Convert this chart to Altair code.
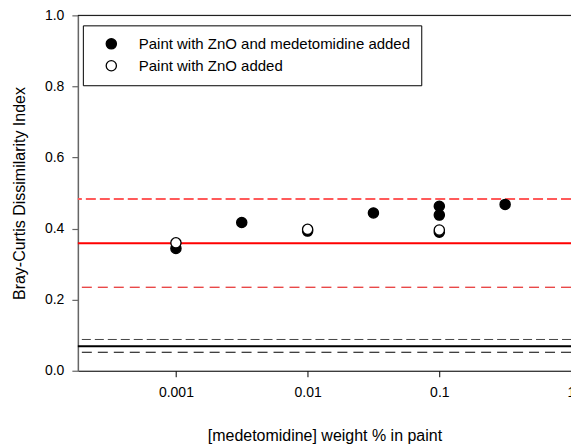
import altair as alt
import pandas as pd

# ---- data ----
series_names = ["Paint with ZnO and medetomidine added", "Paint with ZnO added"]

x_filled = [0.001, 0.00316, 0.01, 0.0316, 0.1, 0.1, 0.1, 0.316]
y_filled = [0.344, 0.417, 0.393, 0.444, 0.463, 0.438, 0.390, 0.468]

x_open = [0.001, 0.01, 0.1]
y_open = [0.360, 0.398, 0.396]

# reference lines (mean and limits)
red_lines = [0.483, 0.359, 0.235]      # upper, mean, lower
black_lines = [0.088, 0.069, 0.052]    # upper, mean, lower

x_ticks = [0.001, 0.01, 0.1, 1]
y_ticks = [0.0, 0.2, 0.4, 0.6, 0.8, 1.0]
x_domain = [0.00018, 1]
y_domain = [0.0, 1.0]

x_title = "[medetomidine] weight % in paint"
y_title = "Bray-Curtis Dissimilarity Index"

FONT = "Liberation Sans"

pts = pd.DataFrame({
    "x": x_filled + x_open,
    "y": y_filled + y_open,
    "series": [series_names[0]] * len(x_filled) + [series_names[1]] * len(x_open),
})


def yenc():
    return alt.Y(
        "y:Q",
        title=y_title,
        scale=alt.Scale(domain=y_domain, nice=False, zero=False),
        axis=alt.Axis(
            values=y_ticks, format=".1f", grid=False, tickSize=6, labelPadding=8,
            domainColor="#666666", tickColor="#666666", domainWidth=1.5, tickWidth=1.2,
            labelFontSize=14, labelFont=FONT, labelColor="black", labelFlush=False,
            titleFontSize=16, titleFont=FONT, titleFontWeight="normal", titleColor="black",
            titleX=-53, titleY=178, titleAngle=-90, titleBaseline="alphabetic",
        ),
    )


def rule_layer(value, color, width, dash=None):
    df = pd.DataFrame({"y": [value]})
    kw = dict(color=color, strokeWidth=width)
    if dash:
        kw["strokeDash"] = dash
    return alt.Chart(df).mark_rule(**kw).encode(y=yenc())


line_styles_red = [("#ff5a5a", 2, [10, 4]), ("#ff0000", 2, None), ("#e00000", 1, [10, 6])]
line_styles_black = [("#444444", 1, [9, 4]), ("#000000", 2, None), ("#000000", 1, [10, 6])]

layers = []
for v, (c, w, d) in zip(red_lines, line_styles_red):
    layers.append(rule_layer(v, c, w, d))
for v, (c, w, d) in zip(black_lines, line_styles_black):
    layers.append(rule_layer(v, c, w, d))

# top frame line at the top of the y domain
layers.append(rule_layer(y_domain[1], "black", 1))

points = alt.Chart(pts).mark_point(
    filled=True, size=105, opacity=1, stroke="black", strokeWidth=1.3
).encode(
    x=alt.X(
        "x:Q",
        title=x_title,
        scale=alt.Scale(type="log", domain=x_domain, nice=False),
        axis=alt.Axis(
            values=x_ticks, format="~g", grid=False, tickSize=6, labelPadding=9,
            domainColor="black", tickColor="black", labelFontSize=14, labelFont=FONT,
            labelColor="black", labelFlush=False, labelOverlap=False,
            titleFontSize=16, titleFont=FONT, titleFontWeight="normal", titleColor="black",
            titleY=70, titleBaseline="alphabetic",
        ),
    ),
    y=yenc(),
    fill=alt.Fill(
        "series:N",
        scale=alt.Scale(domain=series_names, range=["black", "white"]),
        legend=alt.Legend(
            title=None, orient="none", legendX=5, legendY=10,
            padding=11, strokeColor="black", fillColor="white",
            symbolType="circle", symbolSize=105, symbolStrokeColor="black",
            symbolStrokeWidth=1.3, symbolOpacity=1, symbolOffset=10,
            labelOffset=20, rowPadding=5, labelFontSize=15, labelFont=FONT,
            labelColor="black", labelLimit=500,
        ),
    ),
)
layers.append(points)

chart = alt.layer(*layers).properties(
    width=494, height=356,
    autosize=alt.AutoSizeParams(type="none"),
    padding={"left": 78, "top": 15, "right": 0, "bottom": 76},
).configure_view(stroke=None).configure(background="white")

chart.save("out.html", embed_options={"renderer": "svg", "actions": False})
